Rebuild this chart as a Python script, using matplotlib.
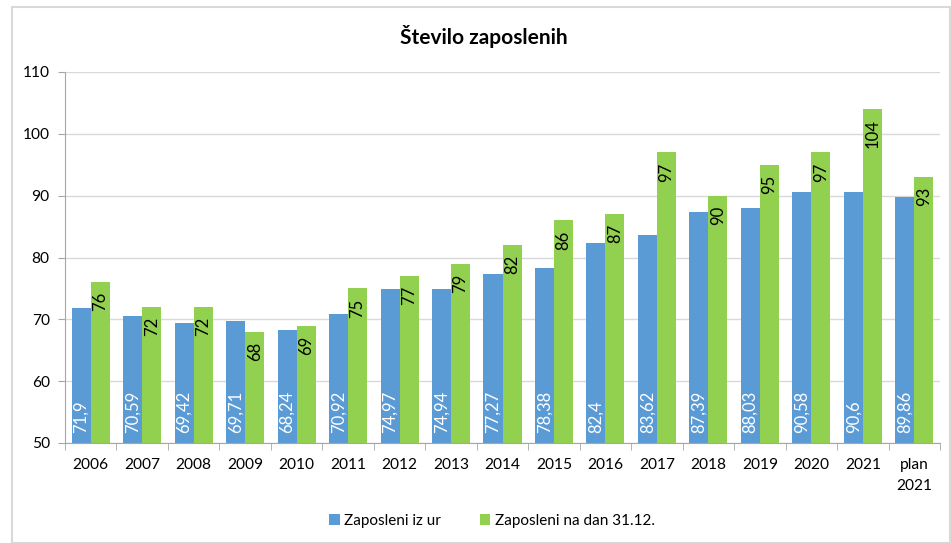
import numpy as np
import matplotlib.pyplot as plt
from matplotlib.patches import Rectangle

plt.rcParams['font.family'] = ['Lato', 'DejaVu Sans']

# data
categories = ['2006', '2007', '2008', '2009', '2010', '2011', '2012', '2013', '2014',
              '2015', '2016', '2017', '2018', '2019', '2020', '2021', 'plan\n2021']
iz_ur = [71.9, 70.59, 69.42, 69.71, 68.24, 70.92, 74.97, 74.94, 77.27,
         78.38, 82.4, 83.62, 87.39, 88.03, 90.58, 90.6, 89.86]
na_dan = [76, 72, 72, 68, 69, 75, 77, 79, 82, 86, 87, 97, 90, 95, 97, 104, 93]

blue = '#5b9bd5'
green = '#92d050'
grid_c = '#d9d9d9'
axis_c = '#a6a6a6'

fig = plt.figure(figsize=(9.51, 5.43), dpi=100)
fig.patches.append(Rectangle((12/951, 0), 1 - 12/951 - 0.001, 1 - 6/543 - 0.001,
                             transform=fig.transFigure, fill=False,
                             edgecolor='#d9d9d9', linewidth=1.5))
ax = fig.add_axes([65/951, 1 - 443/543, (940 - 65)/951, (443 - 72)/543])

x = np.arange(len(categories))
w = 0.37
b1 = ax.bar(x - w/2, iz_ur, w, color=blue, label='Zaposleni iz ur', zorder=2)
b2 = ax.bar(x + w/2, na_dan, w, color=green, label='Zaposleni na dan 31.12.', zorder=2)

# labels: blue at the base in white, green at the top in black
for xi, v in zip(x, iz_ur):
    ax.text(xi - w/2, 51.6, ('%g' % v).replace('.', ','), rotation=90,
            ha='center', va='bottom', color='white', fontsize=12, zorder=3)
for xi, v in zip(x, na_dan):
    ax.text(xi + w/2, v - 1.6, '%d' % v, rotation=90,
            ha='center', va='top', color='black', fontsize=12, zorder=3)

ax.set_ylim(50, 110)
ax.set_xlim(-0.5, len(categories) - 0.5)
ax.set_yticks(np.arange(50, 111, 10))
ax.yaxis.grid(True, color=grid_c, linewidth=1, zorder=0)
ax.set_axisbelow(True)

ax.set_xticks(x)
ax.set_xticklabels(categories, fontsize=11.2, linespacing=1.6)
ax.set_xticks(np.arange(-0.5, len(categories), 1), minor=True)
ax.tick_params(axis='x', which='major', length=0, pad=11)
ax.tick_params(axis='x', which='minor', length=5, color=axis_c)
ax.tick_params(axis='y', length=5, color=axis_c, labelsize=11.2, pad=6)

for s in ['top', 'right']:
    ax.spines[s].set_visible(False)
ax.spines['left'].set_color(axis_c)
ax.spines['bottom'].set_color(axis_c)

fig.text(484/951, 1 - 37/543, 'Število zaposlenih', ha='center', va='center',
         fontsize=15, fontweight='bold')

fig.legend(handles=[b1, b2], loc='center', bbox_to_anchor=(492/951, 1 - 521/543),
           ncol=2, frameon=False, fontsize=11, handlelength=0.7, handleheight=0.7,
           handletextpad=0.3, columnspacing=2.5)

fig.savefig('out.png', dpi=100)
